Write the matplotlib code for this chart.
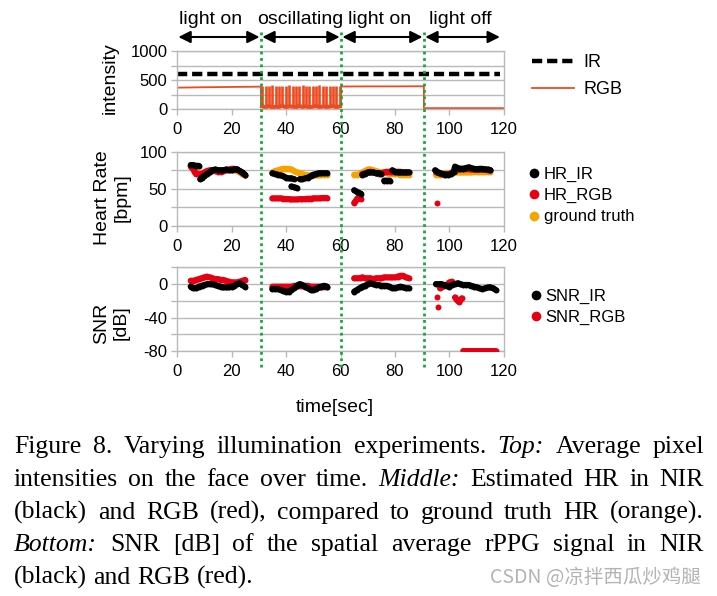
import numpy as np
import matplotlib
matplotlib.use('Agg')
import matplotlib.pyplot as plt
from matplotlib.lines import Line2D
from matplotlib.transforms import blended_transform_factory

plt.rcParams['font.family'] = ['Liberation Sans', 'DejaVu Sans']

nan = np.nan

# ---------------------------------------------------------------- data
x_ticks = [0, 20, 40, 60, 80, 100, 120]
phase_edges = [0, 30.8, 60.2, 90.6, 119]
phase_names = ['light on', 'oscillating', 'light on', 'light off']
phase_label_x = [12.4, 45.1, 74.5, 103.9]

# top: pixel intensities
ir_t = [0, 118.5]
ir_val = [605, 605]
rgb_on1_t = [0, 10, 20, 30.8]
rgb_on1 = [368, 375, 380, 385]
rgb_osc_high = [400, 405, 395, 410, 400, 405, 398, 402, 410, 395, 405, 400,
                408, 396, 404, 400, 395, 406, 400, 398, 405, 400, 396, 402]
rgb_osc_low = [45, 30, 50, 25, 40, 35, 55, 30, 45, 40, 30, 50,
               35, 45, 25, 40, 50, 30, 45, 35, 40, 50, 30, 45]
rgb_on2_t = [60.2, 70, 80, 90.6]
rgb_on2 = [388, 390, 390, 392]
rgb_off_t = [90.6, 120]
rgb_off = [15, 15]
top_yticks = [0, 250, 500, 750, 1000]
top_ylabels = ['0', '', '500', '', '1000']

# middle: heart rate (nan = break between strokes)
hr_ir_t = [5, 6, 7, 8, nan, 8.5, 9, 10, 11, 12, 13, 14, 15, 16, 17, 18, 19, 20, 21, 22, 23, 24, 25, nan,
           35, 36, 37, 38, 39, 40, 41, 42, 43, nan, 42, 43, 44, nan,
           45, 46, 47, 48, 49, 50, 51, 52, 53, 54, 55, nan,
           65, 66, 67, 67.5, nan, 68, 69, 70, 71, 72, 73, 74, 75, nan, 76, 77, 78, nan,
           79, 80, 81, 82, 83, 84, 85, nan,
           94.7, 95.5, 96.5, 97.5, 98.5, 99.5, 100.5, 101.5, 102, 103, 104, 105, 106, 107, 108, 109,
           110, 111, 112, 113, 114, 115]
hr_ir = [82, 82, 81, 81, nan, 63, 65, 67, 70, 72, 75, 76, 75, 75, 75, 76, 75, 75, 76, 76, 74, 72, 69, nan,
         71, 70, 69, 68, 67, 65, 64, 64, 63, nan, 53, 52, 51, nan,
         63, 63, 64, 65, 67, 69, 70, 71, 71, 71, 71, nan,
         48, 46, 44, 43, nan, 69, 70, 72, 72, 72, 71, 71, 70, nan, 61, 61, 61, nan,
         75, 73, 72, 72, 72, 72, 72, nan,
         75, 73, 71, 70, 69, 69, 70, 72, 80, 78, 77, 77, 78, 79, 78, 77,
         76, 77, 77, 76, 76, 75]
hr_rgb_t = [5, 5.5, 6, 6.5, 7, 8, 9, 10, 11, 12, 13, 14, 15, 16, 17, 18, 19, 20, 21, 22, 23, 24, 25, nan,
            35, 36, 37, 38, 39, 40, 41, 42, 43, 44, 45, 46, 47, 48, 49, 50, 51, 52, 53, 54, 55, nan,
            65, 65.5, 66, 66.5, 67, 67.5, nan,
            68, 69, 70, 71, 72, 73, 74, 75, 76, 77, 78, 79, 80, 81, 82, 83, 84, 85, nan,
            95.3, nan, 95, 96, 97, 98, 99, 100, 101, 102, 103, 104, 105, 106, 107, 108, 109, 110,
            111, 112, 113, 114, 115]
hr_rgb = [80, 79, 76, 72, 70, 70, 70, 72, 74, 75, 75, 74, 73, 73, 74, 75, 76, 77, 77, 76, 74, 71, 68, nan,
          37, 37, 37, 37, 36.5, 36, 36, 35.5, 35.5, 35.5, 36, 36, 36, 36.5, 36.5, 37, 37, 37, 37.5, 37.5, 37.5, nan,
          31, 33, 36, 38, 37, 36, nan,
          70, 71, 72, 73, 72, 71, 70, 71, 72, 73, 73, 73, 73, 73, 73, 72, 72, 72, nan,
          31, nan, 73, 71, 70, 70, 70, 70, 72, 74, 76, 77, 77, 77, 77, 76, 76, 76,
          76, 76, 76, 75, 75]
hr_gt_t = [5, 6, 7, 8, 9, 10, 11, 12, 13, 14, 15, 16, 17, 18, 19, 20, 21, 22, 23, 24, 25, nan,
           35, 36, 37, 38, 39, 40, 41, 42, 43, 44, 45, 46, 47, 48, 49, 50, 51, 52, 53, 54, 55, nan,
           65, 66, 67, 68, 69, 70, 71, 72, 73, 74, 75, 76, 77, 78, 79, 80, 81, 82, 83, 84, 85, nan,
           95, 96, 97, 98, 99, 100, 101, 102, 103, 104, 105, 106, 107, 108, 109, 110, 111, 112, 113, 114, 115]
hr_gt = [80, 78, 74, 71, 69, 71, 73, 74, 75, 75, 75, 75, 75, 75, 75, 75, 75, 74, 72, 70, 68, nan,
         72, 74, 75, 76, 77, 77, 77, 76, 74, 72, 71, 70, 69, 68, 68, 68, 68, 68, 69, 69, 69, nan,
         69, 69, 70, 72, 74, 76, 76, 75, 74, 73, 72, 72, 71, 70, 70, 70, 70, 69, 69, 69, 69, nan,
         69, 69, 69, 69, 70, 71, 72, 72, 72, 72, 72, 72, 72, 72, 73, 73, 73, 73, 73, 73, 73]
mid_yticks = [0, 25, 50, 75, 100]
mid_ylabels = ['0', '', '50', '', '100']

# bottom: SNR
snr_ir_t = [5, 6, 7, 8, 9, 10, 11, 12, 13, 14, 15, 16, 17, 18, 19, 20, 21, 22, 23, 24, 25, nan,
            35, 36, 37, 38, 39, 40, 41, 42, 43, 44, 45, 46, 47, 48, 49, 50, 51, 52, 53, 54, 55, nan,
            65, 66, 67, 68, 69, 70, 71, 72, 73, 74, 75, 76, 77, 78, 79, 80, 81, 82, 83, 84, 85, nan,
            95, 96, 97, 98, 99, 100, 101, 102, 103, 104, 105, 106, 107, 108, 109, 110, 111, 112,
            113, 114, 115, 116, 117]
snr_ir = [-3, -5, -5, -3, -2, -1, 0, 0, 0, -1, -2, -3, -4, -4, -4, -3, -2, 0, 1, -1, -3, nan,
          -6, -6, -6, -7, -8, -9, -9, -7, -5, -2, 0, -1, -3, -5, -7, -7, -6, -4, -3, -2, -3, nan,
          -9, -7, -5, -3, -2, 0, 1, 0, -1, -1, -2, -2, -2, -3, -5, -5, -4, -3, -4, -5, -5, nan,
          0, 0, 0, -1, -2, -3, -1, 0, 1, 0, -1, -1, -1, -2, -3, -4, -5, -6,
          -5, -4, -4, -5, -7]
snr_rgb_t = [5, 6, 7, 8, 9, 10, 11, 12, 13, 14, 15, 16, 17, 18, 19, 20, 21, 22, 23, 24, 25, nan,
             35, 36, 37, 38, 39, 40, 41, 42, 43, 44, 45, 46, 47, 48, 49, 50, 51, 52, 53, 54, 55, nan,
             65, 66, 67, 68, 69, 70, 71, 72, 73, 74, 75, 76, 77, 78, 79, 80, 81, 82, 83, 84, 85, nan,
             95.3, nan, 95.6, nan, 96.5, 97, 98, 99, 100, 101, nan,
             102, 102.5, 103, 103.5, 104, 104.5, nan,
             105, 106, 107, 108, 109, 110, 111, 112, 113, 114, 115, 116, 117]
snr_rgb = [4, 4, 5, 6, 7, 8, 9, 8, 7, 6, 6, 5, 5, 4, 3, 2, 2, 2, 3, 4, 5, nan,
           -3, -3, -3, -3, -3, -3, -3, -3, -2, -2, -2, -2, -2, -2, -3, -3, -3, -3, -3, -3, -3, nan,
           7, 7, 7, 8, 7, 7, 7, 6, 7, 7, 7, 8, 8, 8, 8, 8, 9, 10, 10, 8, 7, nan,
           -15, nan, -28, nan, -5, -4, -2, -1, 2, 3, nan,
           -16, -18, -20, -21, -19, -17, nan,
           -80, -80, -80, -80, -80, -80, -80, -80, -80, -80, -80, -80, -80]
bot_yticks = [-80, -60, -40, -20, 0, 20]
bot_ylabels = ['-80', '', '-40', '', '0', '']

caption_lines = [
    "Figure 8. Varying illumination experiments. _Top: Average pixel",
    "intensities on the face over time. _Middle: Estimated HR in NIR",
    "(black) and RGB (red), compared to ground truth HR (orange).",
    "_Bottom: SNR [dB] of the spatial average rPPG signal in NIR",
    "(black) and RGB (red).",
]
caption_baselines = [453, 486, 519, 551, 584]
watermark = 'CSDN @凉拌西瓜炒鸡腿'

# ---------------------------------------------------------------- style
GRID = '#b9b9b9'
GREEN = '#16a83a'
RED_LINE = '#ef4a1f'
RED = '#e60012'
ORANGE = '#f5a300'
STROKE = 4.3

W, H = 717, 596
fig = plt.figure(figsize=(W / 100, H / 100), dpi=100)


def fx(px):
    return px / W


def fy(py):
    return 1 - py / H


def make_axes(top, bottom):
    return fig.add_axes([fx(177), fy(bottom), fx(504) - fx(177), fy(top) - fy(bottom)])


def style_axes(ax, yticks, ylabels):
    ax.set_xlim(0, 120)
    ax.set_ylim(yticks[0], yticks[-1])
    ax.set_xticks(x_ticks)
    ax.set_yticks(yticks)
    ax.set_yticklabels(ylabels)
    ax.grid(axis='y', color=GRID, lw=1)
    ax.set_axisbelow(True)
    for s in ax.spines.values():
        s.set_color(GRID)
        s.set_linewidth(1)
    ax.tick_params(axis='x', colors=GRID, labelcolor='black', length=4.5, width=1, pad=5, labelsize=12)
    ax.tick_params(axis='y', colors=GRID, labelcolor='black', length=4, width=1, pad=3, labelsize=12)


def stroke(ax, t, v, color, z):
    # thick dotted strokes like the dense scatter in the original
    ax.plot(t, v, '-o', color=color, lw=STROKE, ms=STROKE, mew=0,
            solid_capstyle='round', solid_joinstyle='round', zorder=z)


def dot_legend(ax, labels, colors, anchor_px):
    handles = [Line2D([], [], ls='', marker='o', ms=7, mew=0, color=c) for c in colors]
    ax.legend(handles, labels, loc='upper left', bbox_to_anchor=(fx(anchor_px[0]), fy(anchor_px[1])),
              bbox_transform=fig.transFigure, frameon=False, fontsize=12,
              handlelength=0.8, handletextpad=0.2, borderpad=0, borderaxespad=0, labelspacing=0.38)


ax_top = make_axes(51, 109)
ax_mid = make_axes(151.7, 225.7)
ax_bot = make_axes(267.3, 351)

# top panel
ax_top.plot(ir_t, ir_val, color='black', lw=3.2, dashes=(2.3, 1.1), label='IR')
# oscillating light: spikes sampled evenly over the oscillating phase
osc_t = list(np.linspace(phase_edges[1] + 0.5, phase_edges[2] - 0.5, len(rgb_osc_high)))
rgb_t = rgb_on1_t + [phase_edges[1]] + osc_t + [phase_edges[2]] + rgb_on2_t + rgb_off_t
rgb_v = rgb_on1 + [rgb_osc_low[0]] + rgb_osc_low + [rgb_osc_low[-1]] + rgb_on2 + rgb_off
ax_top.plot(rgb_t, rgb_v, color=RED_LINE, lw=1.3, label='RGB')
ax_top.plot(osc_t, rgb_osc_low, color=RED_LINE, lw=3)
ax_top.vlines(osc_t, rgb_osc_low, rgb_osc_high, color=RED_LINE, lw=1.9)
style_axes(ax_top, top_yticks, top_ylabels)
ax_top.legend(loc='upper left', bbox_to_anchor=(fx(532), fy(54)), bbox_transform=fig.transFigure,
              frameon=False, fontsize=13, handlelength=2.3, handletextpad=0.55,
              borderpad=0, borderaxespad=0, labelspacing=0.55)

# middle panel
stroke(ax_mid, hr_gt_t, hr_gt, ORANGE, 3)
stroke(ax_mid, hr_rgb_t, hr_rgb, RED, 4)
stroke(ax_mid, hr_ir_t, hr_ir, 'black', 5)
style_axes(ax_mid, mid_yticks, mid_ylabels)
dot_legend(ax_mid, ['HR_IR', 'HR_RGB', 'ground truth'], ['black', RED, ORANGE], (527, 166.5))

# bottom panel
stroke(ax_bot, snr_rgb_t, snr_rgb, RED, 4)
stroke(ax_bot, snr_ir_t, snr_ir, 'black', 5)
style_axes(ax_bot, bot_yticks, bot_ylabels)
dot_legend(ax_bot, ['SNR_IR', 'SNR_RGB'], ['black', RED], (529, 288.5))

# axis labels
fig.text(fx(110), fy(78), 'intensity', rotation=90, ha='center', va='center', fontsize=14)
fig.text(fx(112), fy(198), 'Heart Rate\n[bpm]', rotation=90, ha='center', va='center',
         fontsize=14, multialignment='center')
fig.text(fx(111), fy(323), 'SNR\n[dB]', rotation=90, ha='center', va='center',
         fontsize=14, multialignment='center')
fig.text(fx(335), fy(407), 'time[sec]', ha='center', va='center', fontsize=14)

# phase boundaries, arrows and names
trans = blended_transform_factory(ax_top.transData, fig.transFigure)
for b in phase_edges[1:-1]:
    fig.add_artist(Line2D([b, b], [fy(32), fy(368)], transform=trans, color=GREEN,
                          lw=2, ls=(0, (1, 1.3)), zorder=6))
for a, b in zip(phase_edges[:-1], phase_edges[1:]):
    ax_top.annotate('', xy=(b, fy(37)), xycoords=trans, xytext=(a, fy(37)), textcoords=trans,
                    arrowprops=dict(arrowstyle='<|-|>,head_length=0.6,head_width=0.3',
                                    color='black', lw=1.5, mutation_scale=12,
                                    shrinkA=1, shrinkB=1),
                    annotation_clip=False)
for x, name in zip(phase_label_x, phase_names):
    ax_top.text(x, fy(24), name, transform=trans, ha='center', va='baseline', fontsize=14)

# caption, justified word by word
CAP_L, CAP_R = 14, 704
CAP_SIZE = 18.5
renderer = fig.canvas.get_renderer()
for i, (line, base) in enumerate(zip(caption_lines, caption_baselines)):
    words = line.split(' ')
    texts = []
    for w in words:
        italic = w.startswith('_')
        texts.append(fig.text(0, fy(base), w.lstrip('_'), fontsize=CAP_SIZE, family='Liberation Serif',
                              style='italic' if italic else 'normal', va='baseline', ha='left'))
    widths = [t.get_window_extent(renderer).width for t in texts]
    if i < len(caption_lines) - 1:
        gap = (CAP_R - CAP_L - sum(widths)) / (len(words) - 1)
    else:
        gap = CAP_SIZE * 0.25 * 100 / 72
    x = CAP_L
    for t, w in zip(texts, widths):
        t.set_x(fx(x))
        x += w + gap

fig.text(fx(701), fy(583), watermark, ha='right', va='baseline', fontsize=14, color='#b3b3b3',
         family=['Noto Sans CJK SC', 'DejaVu Sans'])

fig.savefig('out.png', dpi=100)
